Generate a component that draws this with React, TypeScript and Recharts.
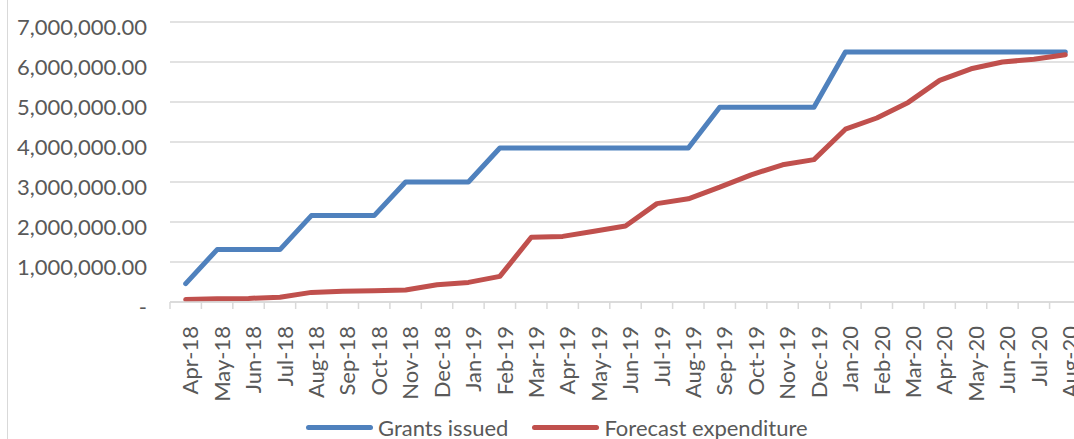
import React from "react";
import { LineChart, Line, XAxis, YAxis, CartesianGrid, Legend } from "recharts";

const months = [
  "Apr-18", "May-18", "Jun-18", "Jul-18", "Aug-18", "Sep-18", "Oct-18", "Nov-18", "Dec-18",
  "Jan-19", "Feb-19", "Mar-19", "Apr-19", "May-19", "Jun-19", "Jul-19", "Aug-19", "Sep-19",
  "Oct-19", "Nov-19", "Dec-19", "Jan-20", "Feb-20", "Mar-20", "Apr-20", "May-20", "Jun-20",
  "Jul-20", "Aug-20",
];

const grantsIssued = [
  460000, 1310000, 1310000, 1310000, 2160000, 2160000, 2160000, 3000000, 3000000,
  3000000, 3850000, 3850000, 3850000, 3850000, 3850000, 3850000, 3850000, 4870000,
  4870000, 4870000, 4870000, 6250000, 6250000, 6250000, 6250000, 6250000, 6250000,
  6250000, 6250000,
];

const forecastExpenditure = [
  60000, 80000, 90000, 120000, 240000, 270000, 280000, 300000, 430000,
  490000, 640000, 1620000, 1640000, 1770000, 1900000, 2460000, 2580000, 2870000,
  3180000, 3430000, 3560000, 4320000, 4600000, 4990000, 5540000, 5830000, 6000000,
  6070000, 6180000,
];

const yTicks = [0, 1000000, 2000000, 3000000, 4000000, 5000000, 6000000, 7000000];

const data = months.map((m, i) => ({
  month: m,
  grants: grantsIssued[i],
  forecast: forecastExpenditure[i],
}));

const FONT = "Lato, 'Liberation Sans', sans-serif";
const FONT_SIZE = 22;
const TEXT = "#595959";
const GRID = "#d9d9d9";
const BLUE = "#4f81bd";
const RED = "#c0504d";

const fmt = (v: number) =>
  v === 0 ? "-" : v.toLocaleString("en-US", { minimumFractionDigits: 2, maximumFractionDigits: 2 });

function YTick({ x, y, payload }: any) {
  return (
    <text x={x - 23} y={y + 5} dy="0.35em" textAnchor="end" fill={TEXT} fontSize={FONT_SIZE} fontFamily={FONT}>
      {fmt(payload.value)}
    </text>
  );
}

function MonthTick({ x, y, payload }: any) {
  const half = payload.offset ?? 15.7;
  return (
    <g>
      <line x1={x - half} x2={x - half} y1={y} y2={y + 7} stroke={GRID} strokeWidth={1.5} />
      <text
        transform={`translate(${x + 5},${y + 24}) rotate(-90)`}
        dy="0.35em"
        textAnchor="end"
        fill={TEXT}
        fontSize={FONT_SIZE}
        fontFamily={FONT}
      >
        {payload.value}
      </text>
    </g>
  );
}

function LegendBox() {
  const items = [
    { label: "Grants issued", color: BLUE },
    { label: "Forecast expenditure", color: RED },
  ];
  return (
    <div
      style={{
        display: "flex",
        alignItems: "center",
        height: 30,
        paddingLeft: 306,
        position: "relative",
        top: 3,
        fontFamily: FONT,
        fontSize: FONT_SIZE,
        color: TEXT,
        whiteSpace: "nowrap",
      }}
    >
      {items.map((it) => (
        <div key={it.label} style={{ display: "flex", alignItems: "center", marginRight: 24 }}>
          <span style={{ display: "inline-block", width: 67, height: 5, background: it.color, borderRadius: 3, marginRight: 5 }} />
          <span>{it.label}</span>
        </div>
      ))}
    </div>
  );
}

export default function App() {
  return (
    <div style={{ position: "fixed", left: 0, top: 0, width: 1074, height: 439, overflow: "hidden", background: "#fff" }}>
      <div style={{ position: "absolute", left: 7, top: 0, width: 0, height: 439, borderLeft: `1.5px solid ${GRID}` }} />
      <LineChart width={1100} height={439} data={data} margin={{ top: 22, right: 19, left: 0, bottom: 0 }}>
        <CartesianGrid vertical={false} stroke={GRID} strokeWidth={1.3} />
        <XAxis
          dataKey="month"
          scale="band"
          interval={0}
          height={107}
          tickSize={0}
          tickMargin={0}
          tickLine={false}
          axisLine={{ stroke: GRID, strokeWidth: 1.5 }}
          tick={<MonthTick />}
        />
        <YAxis
          width={170}
          domain={[0, 7000000]}
          ticks={yTicks}
          interval={0}
          axisLine={false}
          tickLine={false}
          tickSize={0}
          tickMargin={0}
          tick={<YTick />}
        />
        <Legend verticalAlign="bottom" content={<LegendBox />} />
        <Line
          type="linear"
          dataKey="grants"
          name="Grants issued"
          stroke={BLUE}
          strokeWidth={5}
          strokeLinecap="round"
          strokeLinejoin="round"
          dot={false}
          isAnimationActive={false}
        />
        <Line
          type="linear"
          dataKey="forecast"
          name="Forecast expenditure"
          stroke={RED}
          strokeWidth={5}
          strokeLinecap="round"
          strokeLinejoin="round"
          dot={false}
          isAnimationActive={false}
        />
      </LineChart>
    </div>
  );
}
